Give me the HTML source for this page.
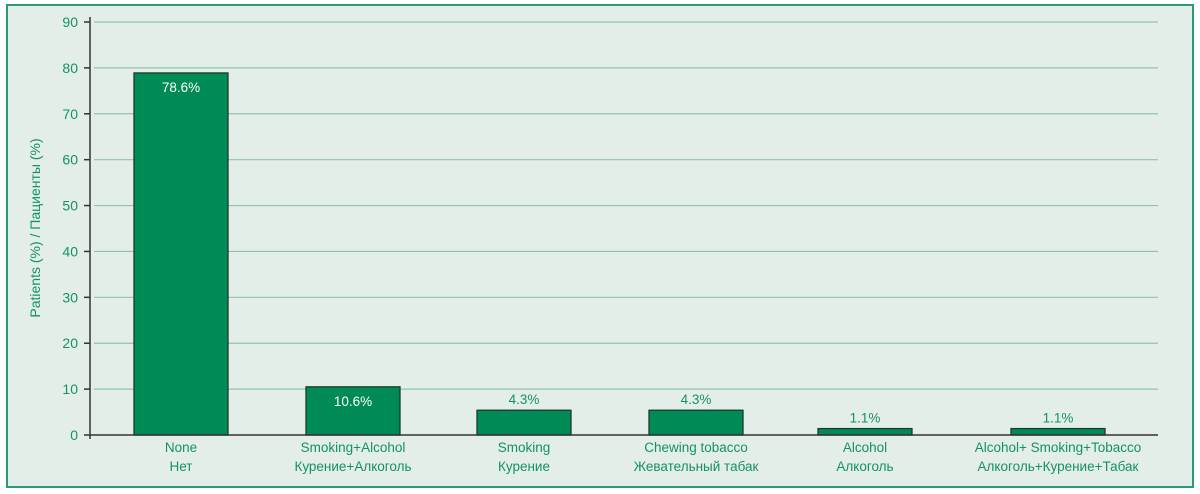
<!DOCTYPE html>
<html><head><meta charset="utf-8"><style>
body{margin:0;background:#fff;}
svg{display:block;font-family:"Liberation Sans","DejaVu Sans",sans-serif;}
</style></head><body>
<svg id="chart" width="1200" height="494">
<rect x="7" y="5" width="1186" height="482" fill="#e4eee8" stroke="#2a9a78" stroke-width="2"/>
<g id="grid"></g><g id="bars"></g><g id="axes"></g>
<text transform="translate(40,228) rotate(-90)" text-anchor="middle" font-size="14" fill="#14935f">Patients (%) / Пациенты (%)</text>
</svg>
<script>
const categoriesEn=["None","Smoking+Alcohol","Smoking","Chewing tobacco","Alcohol","Alcohol+ Smoking+Tobacco"];
const categoriesRu=["Нет","Курение+Алкоголь","Курение","Жевательный табак","Алкоголь","Алкоголь+Курение+Табак"];
const values=[78.9,10.5,5.4,5.4,1.4,1.4];
const valueLabels=["78.6%","10.6%","4.3%","4.3%","1.1%","1.1%"];
const yTicks=[0,10,20,30,40,50,60,70,80,90];
const ns="http://www.w3.org/2000/svg";
const y0=435,yTop=22,xL=90,xR=1158;
const yScale=v=>y0-(v/90)*(y0-yTop);
const centers=[181,353,524,696,865,1058];
const xCenter=i=>centers[i];
const bw=94;
function mk(tag,attrs,parent){const e=document.createElementNS(ns,tag);for(const k in attrs)e.setAttribute(k,attrs[k]);parent.appendChild(e);return e;}
const grid=document.getElementById('grid'),bars=document.getElementById('bars'),axes=document.getElementById('axes');
yTicks.forEach(t=>{
  const y=yScale(t);
  if(t>0){const g=mk('line',{x1:xL+4,x2:xR,y1:y,y2:y,stroke:'#8fc4ac','stroke-width':1.2},grid);
  
  }
  const tk=mk('line',{x1:xL-6,x2:xL,y1:y,y2:y,stroke:'#333','stroke-width':1.5},axes);
  
  
  const tl=mk('text',{x:xL-12,y:y+5,'text-anchor':'end','font-size':14,fill:'#14935f'},axes);
  tl.textContent=t;
  
  
});
const ya=mk('line',{x1:xL,x2:xL,y1:17,y2:439,stroke:'#333','stroke-width':1.5},axes);


const xa=mk('line',{x1:xL,x2:xR,y1:y0,y2:y0,stroke:'#333','stroke-width':1.5},axes);


values.forEach((v,i)=>{
  const cx=xCenter(i),y=yScale(v);
  const r=mk('rect',{x:cx-bw/2,y:y,width:bw,height:y0-y,fill:'#008a55',stroke:'#1d3a2c','stroke-width':1.3},bars);
  
  
  const inside=v>8;
  const l=mk('text',{x:cx,y:inside?y+19:y-6,'text-anchor':'middle','font-size':13.5,fill:inside?'#ffffff':'#14935f'},bars);
  l.textContent=valueLabels[i];
  
  
  const a=mk('text',{x:cx,y:452,'text-anchor':'middle','font-size':13.5,fill:'#14935f'},axes);
  a.textContent=categoriesEn[i];
  
  
  const b=mk('text',{x:cx,y:471,'text-anchor':'middle','font-size':13.5,fill:'#14935f'},axes);
  b.textContent=categoriesRu[i];
  
  
});
</script>
</body></html>
